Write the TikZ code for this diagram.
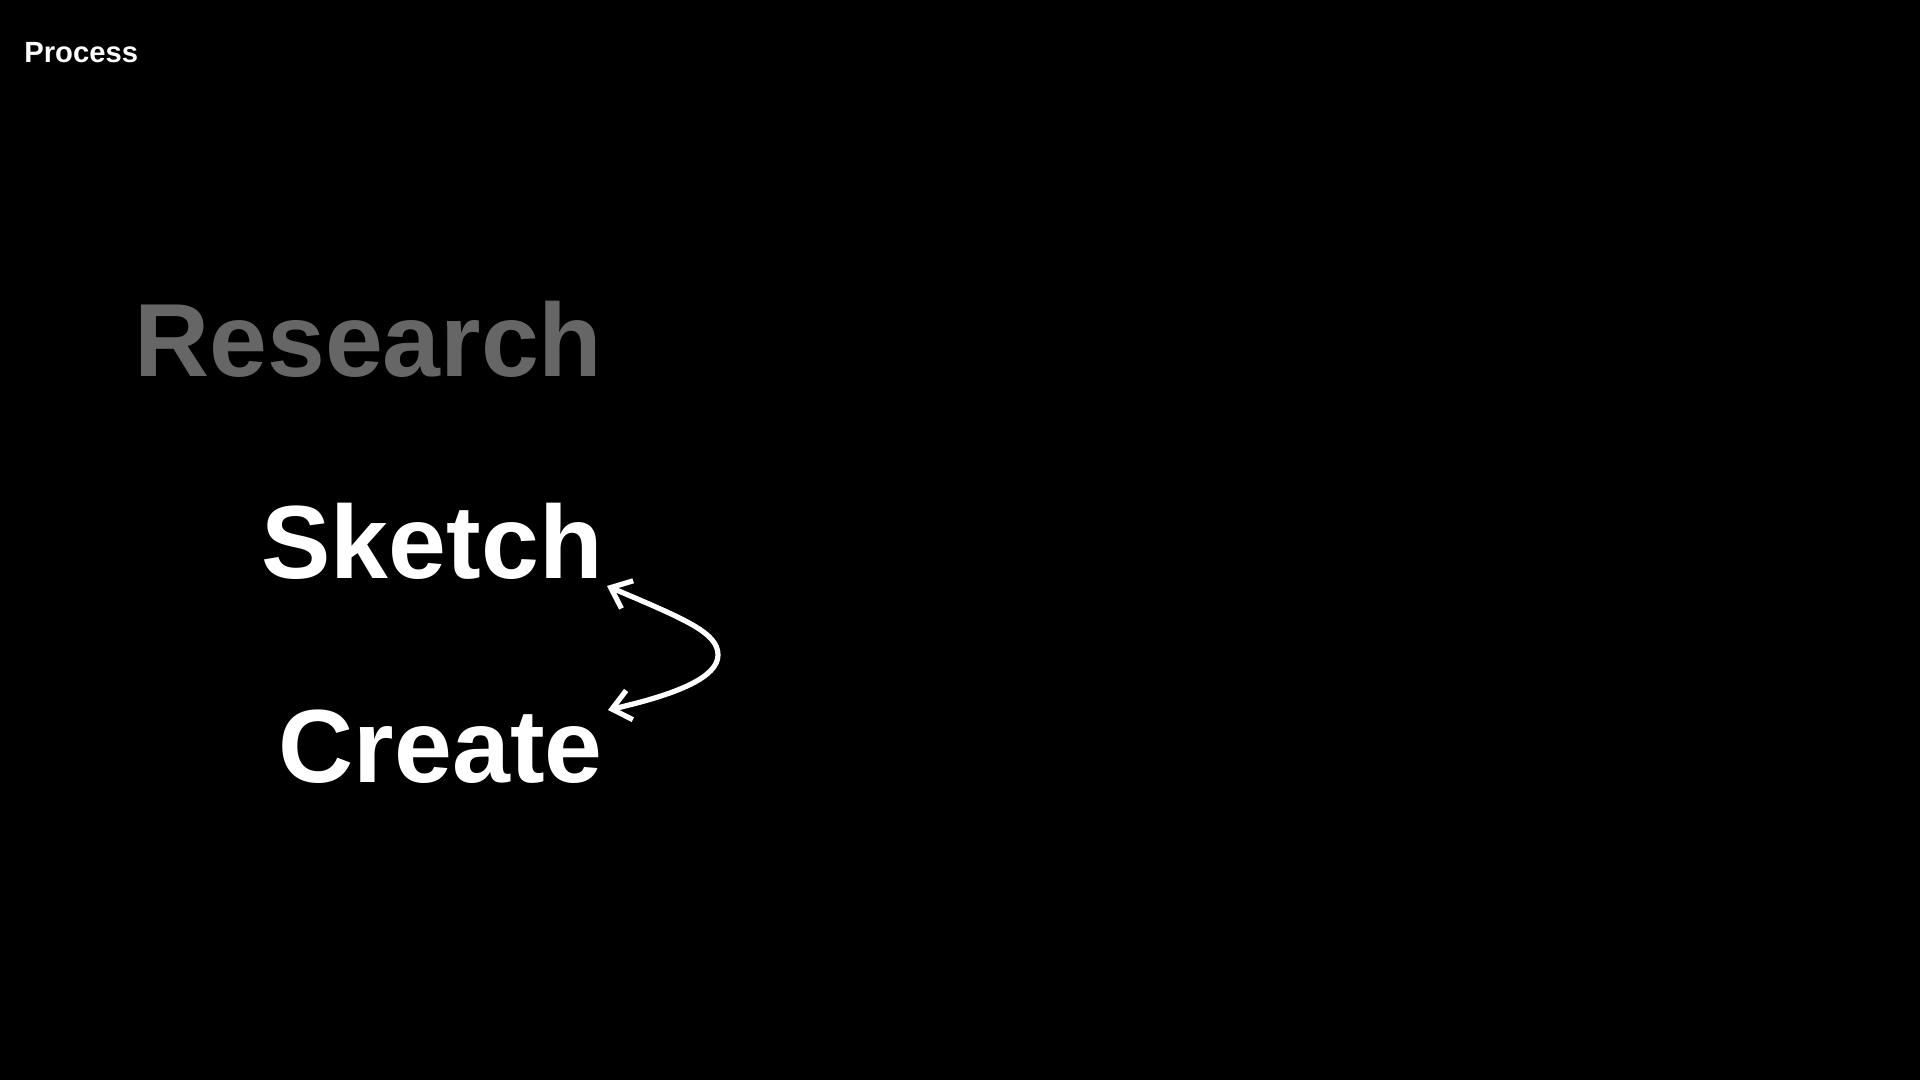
\documentclass[tikz,border=0pt]{standalone}
\usepackage{fontspec}
\setmainfont{Liberation Sans}
\usetikzlibrary{arrows.meta}
\definecolor{dimgray}{HTML}{666666}
\tikzset{
  title/.style={inner sep=0pt, text=white, font=\bfseries\fontsize{14.6pt}{17pt}\selectfont},
  bigword/.style={inner sep=0pt, font=\bfseries\fontsize{52pt}{60pt}\selectfont},
  loop/.style={draw=white, line width=2.6pt, line cap=round,
    {Straight Barb[length=9pt,width=15pt,line width=2.6pt]}-{Straight Barb[length=9pt,width=15pt,line width=2.6pt]}}
}
\begin{document}
\begin{tikzpicture}[x=0.5pt,y=-0.5pt]
\fill[black] (0,0) rectangle (1920,1080);
\useasboundingbox (0,0) rectangle (1920,1080);
\node[title, anchor=base west] (process) at (24,63) {Process};
\node[bigword, text=dimgray, anchor=base east] (research) at (603,377) {Research};
\node[bigword, text=white, anchor=base east] (sketch) at (603,578) {Sketch};
\node[bigword, text=white, anchor=base east] (create) at (603,782) {Create};
\coordinate (a1) at (607,586);
\coordinate (a2) at (718,655);
\coordinate (a3) at (608,710);
\draw[loop] (a1) .. controls (687,620) and (718,633) .. (a2)
               .. controls (718,677) and (678,694) .. (a3);
\end{tikzpicture}
\end{document}
